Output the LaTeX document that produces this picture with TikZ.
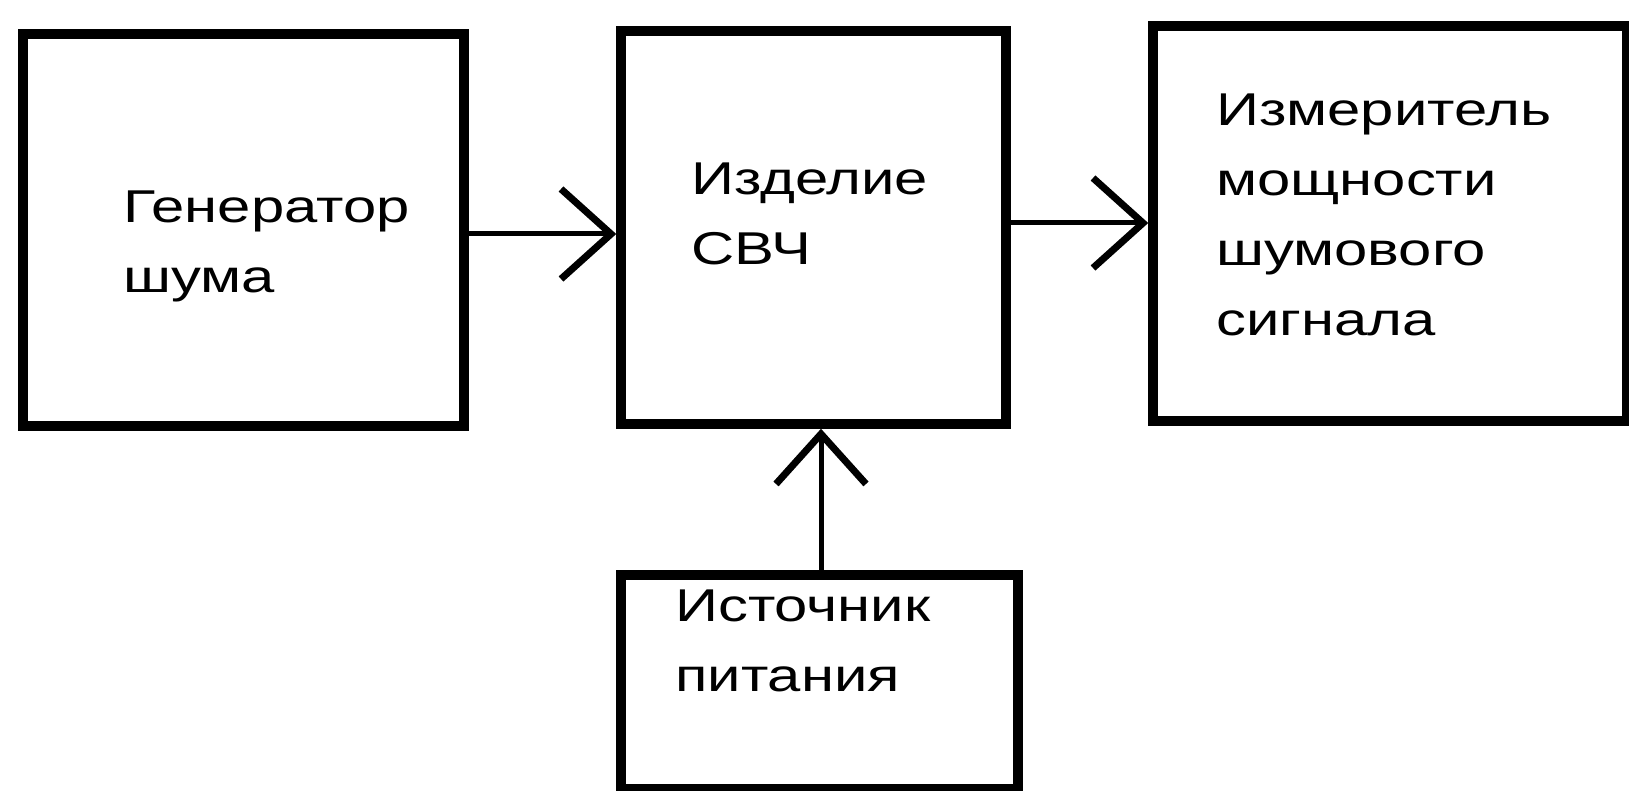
\documentclass[tikz,border=0pt]{standalone}
\usepackage{fontspec}
\setmainfont[FakeStretch=1.3]{Liberation Sans}
\usetikzlibrary{arrows.meta}
\tikzset{
  blockbox/.style={draw=black, line width=9.5pt, inner sep=0pt, fill=none},
  lbl/.style={anchor=base west, inner sep=0pt, align=left, font=\fontsize{46}{70}\selectfont},
  conn/.style={line width=5pt, -{Straight Barb[length=50pt,width=90pt,line width=7pt]}}
}
\begin{document}
\begin{tikzpicture}[x=1pt,y=-1pt]
\useasboundingbox (0,0) rectangle (1629,791);
\fill[white] (0,0) rectangle (1629,791);
% boxes
\node[blockbox, minimum width=441pt, minimum height=392pt] (gen) at (243.5,230) {};
\node[blockbox, minimum width=385pt, minimum height=393pt] (dut) at (813.5,227.5) {};
\node[blockbox, minimum width=474pt, minimum height=395pt] (meas) at (1390,223.5) {};
\node[blockbox, minimum width=397pt, minimum height=214pt] (pwr) at (819.5,682) {};
% labels (anchor is the baseline of the last line)
\node[lbl] (tgen) at (123,293) {Генератор\\шума};
\node[lbl] (tdut) at (691,265) {Изделие\\СВЧ};
\node[lbl] (tmeas) at (1216,335) {Измеритель\\мощности\\шумового\\сигнала};
\node[lbl] (tpwr) at (675,691) {Источник\\питания};
% connectors
\draw[conn] (gen.east |- 0,234) -- (dut.west |- 0,234);
\draw[conn] (dut.east |- 0,223) -- (meas.west |- 0,223);
\draw[conn] (pwr.north -| 821,0) -- (dut.south -| 821,0);
\end{tikzpicture}
\end{document}
